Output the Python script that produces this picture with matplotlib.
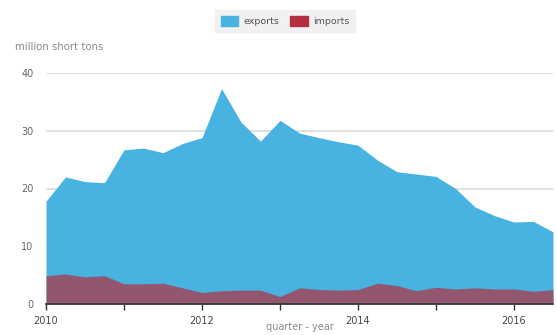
import numpy as np
import matplotlib
matplotlib.use('Agg')
import matplotlib.pyplot as plt
from matplotlib.patches import Patch

# quarterly values, 2010 Q1 .. 2016 Q3
quarters = ['2010Q1', '2010Q2', '2010Q3', '2010Q4',
            '2011Q1', '2011Q2', '2011Q3', '2011Q4',
            '2012Q1', '2012Q2', '2012Q3', '2012Q4',
            '2013Q1', '2013Q2', '2013Q3', '2013Q4',
            '2014Q1', '2014Q2', '2014Q3', '2014Q4',
            '2015Q1', '2015Q2', '2015Q3', '2015Q4',
            '2016Q1', '2016Q2', '2016Q3']
exports = [17.8, 22.0, 21.2, 21.0,
           26.7, 27.0, 26.2, 27.8,
           28.8, 37.3, 31.5, 28.2,
           31.8, 29.6, 28.8, 28.1,
           27.5, 24.9, 22.9, 22.5,
           22.1, 20.0, 16.8, 15.3,
           14.2, 14.3, 12.5]
imports = [4.9, 5.2, 4.7, 4.9,
           3.5, 3.5, 3.6, 2.8,
           2.0, 2.3, 2.4, 2.4,
           1.3, 2.8, 2.5, 2.4,
           2.5, 3.6, 3.2, 2.3,
           2.9, 2.6, 2.8, 2.6,
           2.6, 2.2, 2.5]
year_ticks = [2010, 2011, 2012, 2013, 2014, 2015, 2016]
year_labels = ['2010', '', '2012', '', '2014', '', '2016']

x = np.array([int(q[:4]) + (int(q[-1]) - 1) / 4 for q in quarters])

blue = '#48b2e1'
red = '#b3303f'
grey = '#666666'

fig = plt.figure(figsize=(5.57, 3.35), dpi=100)
ax = fig.add_axes([46 / 557, 31 / 335, 507 / 557, 231 / 335])

ax.fill_between(x, 0, exports, color=blue, lw=0, zorder=2)
ax.fill_between(x, 0, imports, color=red, alpha=0.7, lw=0, zorder=3)

ax.set_xlim(2010, 2016.5)
ax.set_ylim(0, 40)
ax.set_yticks([0, 10, 20, 30, 40])
ax.yaxis.grid(True, color='#dcdcdc', lw=1.3, zorder=1)
ax.set_axisbelow(True)
for s in ['top', 'right', 'left']:
    ax.spines[s].set_visible(False)
ax.spines['bottom'].set_color('#333333')
ax.spines['bottom'].set_linewidth(1.2)
ax.spines['bottom'].set_zorder(4)

ax.set_xticks(year_ticks)
ax.set_xticklabels(year_labels)
ax.tick_params(axis='x', length=4, width=1, color='#333333', labelsize=7,
               labelcolor='#444444', pad=5)
ax.tick_params(axis='y', length=0, labelsize=7, labelcolor=grey, pad=9)

ax.set_xlabel('quarter - year', fontsize=7, color='#888888', labelpad=-3)
fig.text(15 / 557, 1 - 47 / 335, 'million short tons', fontsize=7.3,
         color='#8a8a8a', va='center', ha='left')

handles = [Patch(facecolor=blue, edgecolor=blue, label='exports'),
           Patch(facecolor=red, edgecolor=red, label='imports')]
leg = fig.legend(handles=handles, loc='center', ncol=2,
                 bbox_to_anchor=(285 / 557, 1 - 21 / 335),
                 fontsize=6.8, frameon=True, fancybox=False,
                 handlelength=1.9, handleheight=1.4, handletextpad=0.5,
                 columnspacing=1.2, borderpad=0.6, borderaxespad=0)
leg.get_frame().set_facecolor('#eeeeee')
leg.get_frame().set_edgecolor('#eeeeee')
for t in leg.get_texts():
    t.set_color('#555555')

fig.savefig('out.png', dpi=100)
